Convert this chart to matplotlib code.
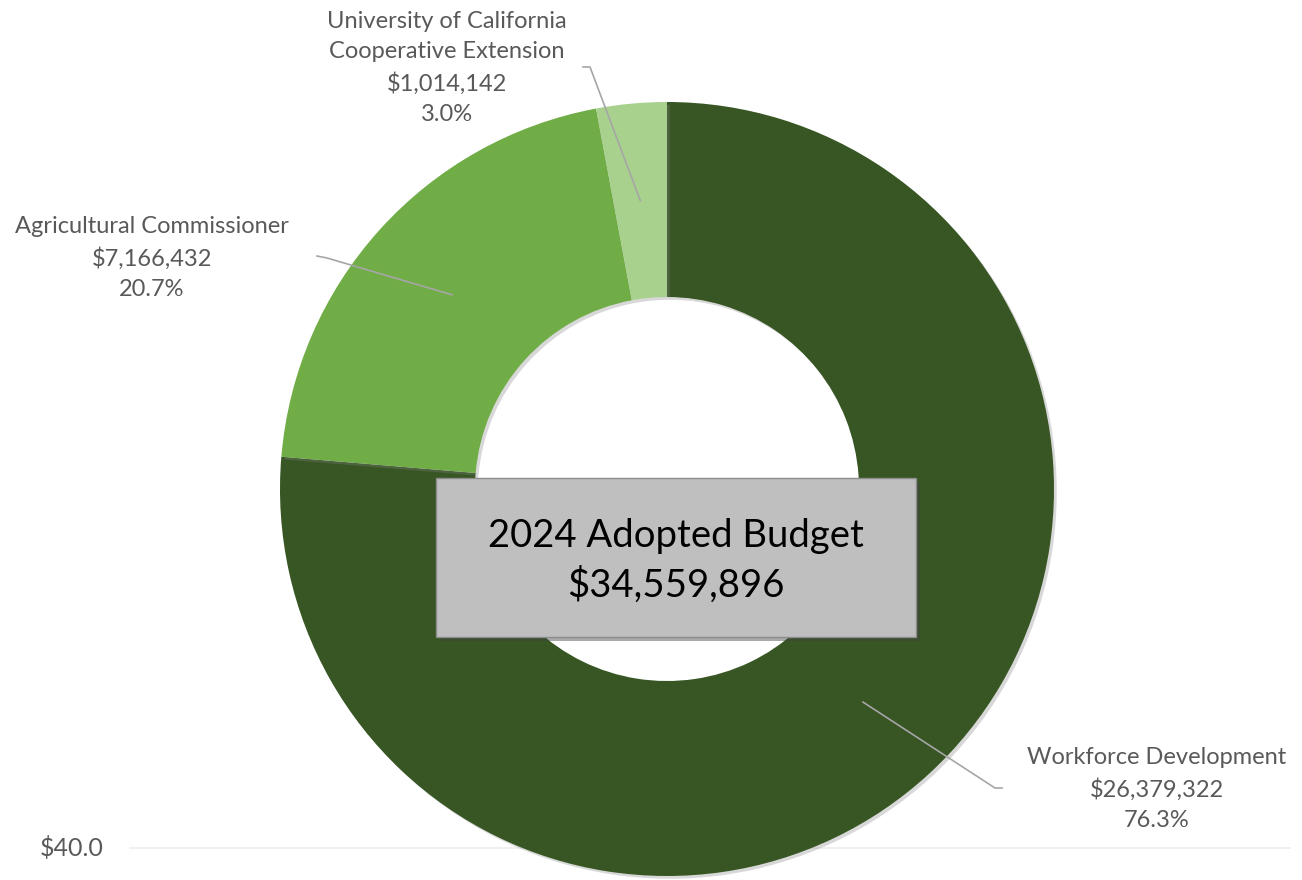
import numpy as np
import matplotlib.pyplot as plt
import matplotlib.patheffects as pe
from matplotlib.patches import Rectangle

# Datos del presupuesto
names = ['Workforce Development', 'Agricultural Commissioner',
         'University of California\nCooperative Extension']
values = [26379322, 7166432, 1014142]
pcts = [76.3, 20.7, 3.0]
colors = ['#375623', '#70AD47', '#A9D18E']
total = sum(values)
title_line = '2024 Adopted Budget'
axis_label = '$40.0'

plt.rcParams['font.family'] = ['Lato', 'DejaVu Sans']

W, H = 1302, 880
fig = plt.figure(figsize=(W / 100, H / 100), dpi=100)
ax = fig.add_axes([0, 0, 1, 1])

def Y(y):
    return H - y

cx, cy = 667, Y(489)
R_out, R_in = 387, 192

# Línea de eje tenue y etiqueta
ax.plot([130, 1290], [Y(848), Y(848)], color='#EDEDED', lw=1.2, zorder=0)
ax.text(72, Y(848), axis_label, ha='center', va='center', fontsize=18, color='#595959')

wedges, _ = ax.pie(values, colors=colors, startangle=90, counterclock=False,
                   center=(cx, cy), radius=R_out,
                   wedgeprops=dict(width=R_out - R_in, linewidth=0))
for w in wedges:
    w.set_path_effects([pe.SimplePatchShadow(offset=(2, -2), shadow_rgbFace='#808080',
                                             alpha=0.3), pe.Normal()])

# Etiquetas y líneas guía
label_pos = [(1157, 789), (152, 258), (447, 68)]
elbow = [((995, 788), (1002, 788)), ((327, 258), (317, 256)), ((590, 67), (583, 67))]
r_mid = (R_out + R_in) / 2
cum = 0
for i, v in enumerate(values):
    mid = 90 - 360 * (cum + v / 2) / total
    cum += v
    ex = cx + r_mid * np.cos(np.radians(mid))
    ey = cy + r_mid * np.sin(np.radians(mid))
    (k1x, k1y), (k2x, k2y) = elbow[i]
    ax.plot([ex, k1x, k2x], [ey, Y(k1y), Y(k2y)], color='#A6A6A6', lw=1.2, zorder=5)
    txt = f"{names[i]}\n${values[i]:,}\n{pcts[i]:.1f}%"
    ax.text(label_pos[i][0], Y(label_pos[i][1]), txt, ha='center', va='center',
            fontsize=17, color='#595959', linespacing=1.55, zorder=6)

# Caja central
box = Rectangle((436, Y(637)), 480, 159, facecolor='#BFBFBF', edgecolor='#8C8C8C',
                lw=1.0, zorder=7)
box.set_path_effects([pe.SimplePatchShadow(offset=(3, -3), shadow_rgbFace='#404040',
                                           alpha=0.45), pe.Normal()])
ax.add_patch(box)
ax.text(676, Y(561), f"{title_line}\n${total:,}", ha='center', va='center',
        fontsize=27.5, color='black', linespacing=1.4, zorder=8)

ax.set_xlim(0, W)
ax.set_ylim(0, H)
ax.set_aspect('equal')
ax.axis('off')

plt.savefig('out.png', dpi=100)
